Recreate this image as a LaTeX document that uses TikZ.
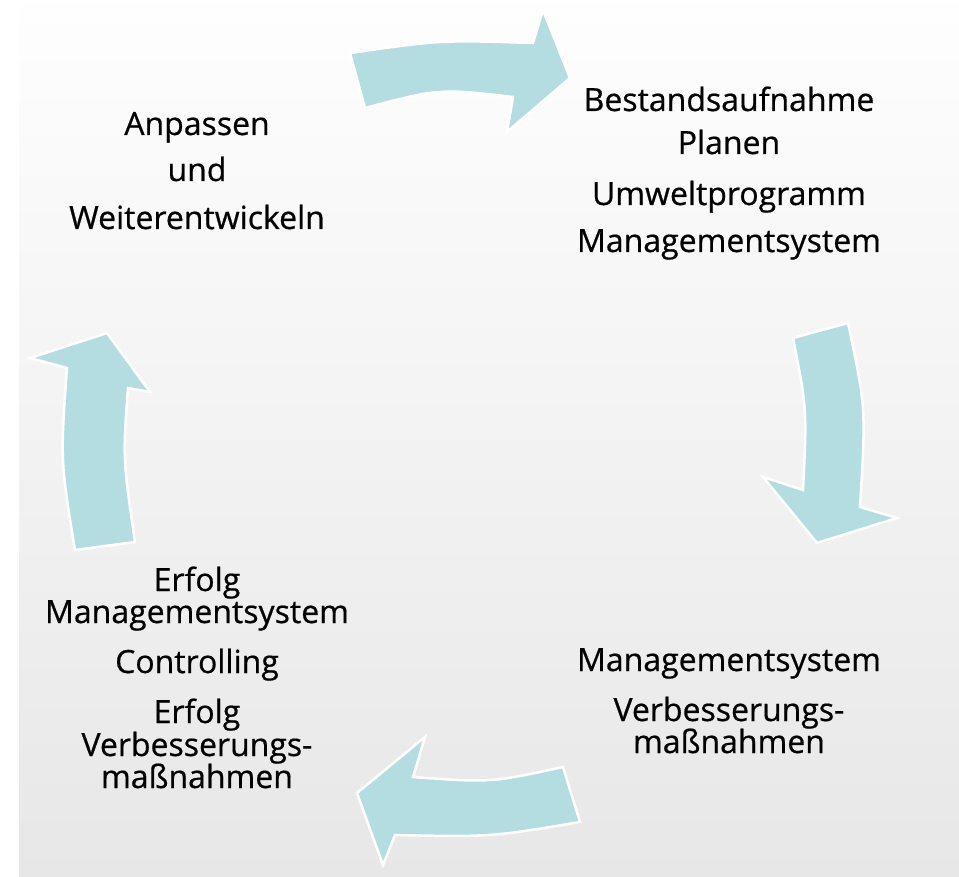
\documentclass[tikz,border=0pt]{standalone}
\usepackage{fontspec}
\setmainfont[FakeBold=0.6]{Open Sans}
\definecolor{arrowfill}{RGB}{180,221,225}
\definecolor{bgtop}{RGB}{254,254,254}
\definecolor{bgbot}{RGB}{231,231,231}
\tikzset{
  cyclearrow/.style={fill=arrowfill, draw=white, line width=2.5pt, line join=miter},
  lbl/.style={anchor=base, inner sep=0pt, font=\fontsize{32}{36}\selectfont, text=black}
}
\begin{document}
\begin{tikzpicture}[x=1pt,y=-1pt]
\useasboundingbox (0,0) rectangle (959,877);
\fill[white] (0,0) rectangle (959,877);
\shade[top color=bgtop, bottom color=bgbot] (19,4) rectangle (959,877);
% top arrow (pointing right)
\filldraw[cyclearrow] (350,53) .. controls (441,40) .. (533,43) -- (543,10) -- (570,78) -- (507,132) -- (513,97) .. controls (439,88.5) .. (365,108) -- cycle;
% right arrow (pointing down)
\filldraw[cyclearrow] (848,323) .. controls (866,408) .. (860,507) -- (897,518) -- (817,543) -- (763,477) -- (803,490) .. controls (807,409) .. (793,338) -- cycle;
% bottom arrow (pointing left)
\filldraw[cyclearrow] (580,822) .. controls (491,837) .. (395,835) -- (383,865) -- (357,793) -- (425,737) -- (413,777) .. controls (490.7,782.7) .. (563,767) -- cycle;
% left arrow (pointing up)
\filldraw[cyclearrow] (75,550) .. controls (60.3,460.3) .. (67,368) -- (30,358) -- (107,333) -- (150,392) -- (128,388) .. controls (122.8,458.3) .. (135,542) -- cycle;
% top right text
\node[lbl] (tr1) at (729,111) {Bestandsaufnahme};
\node[lbl] (tr2) at (729,154) {Planen};
\node[lbl] (tr3) at (729,205) {Umweltprogramm};
\node[lbl] (tr4) at (729,252) {Managementsystem};
% top left text
\node[lbl] (tl1) at (197,135) {Anpassen};
\node[lbl] (tl2) at (197,181) {und};
\node[lbl] (tl3) at (197,229) {Weiterentwickeln};
% bottom left text
\node[lbl] (bl1) at (197,591) {Erfolg};
\node[lbl] (bl2) at (197,623) {Managementsystem};
\node[lbl] (bl3) at (197,673) {Controlling};
\node[lbl] (bl4) at (197,723) {Erfolg};
\node[lbl] (bl5) at (197,756) {Verbesserungs-};
\node[lbl] (bl6) at (197,788) {maßnahmen};
% bottom right text
\node[lbl] (br1) at (729,671) {Managementsystem};
\node[lbl] (br2) at (729,721) {Verbesserungs-};
\node[lbl] (br3) at (729,753) {maßnahmen};
\end{tikzpicture}
\end{document}
